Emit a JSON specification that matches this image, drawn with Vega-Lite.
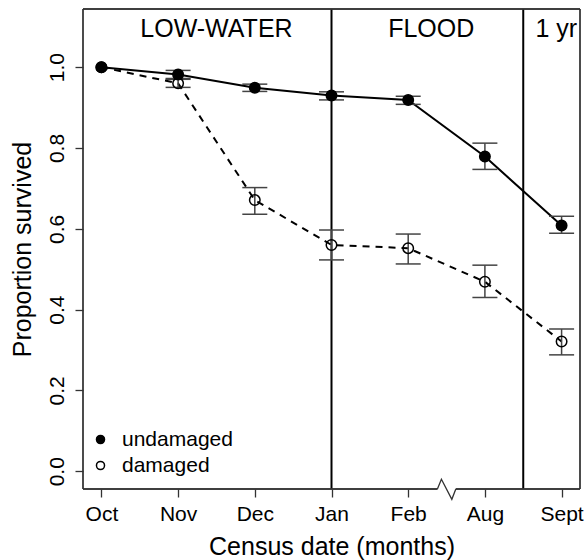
{
  "$schema": "https://vega.github.io/schema/vega-lite/v6.json",
  "width": 497,
  "height": 480,
  "autosize": "none",
  "padding": {"left": 83, "top": 9, "right": 5, "bottom": 71},
  "background": "white",
  "config": {
    "font": "Liberation Sans",
    "view": {"stroke": null},
    "axis": {
      "grid": false,
      "domain": false,
      "labelColor": "black",
      "labelFontSize": 21,
      "labelFont": "Liberation Sans",
      "tickColor": "#333333",
      "tickWidth": 1.3,
      "tickSize": 8,
      "titleColor": "black",
      "titleFont": "Liberation Sans",
      "titleFontSize": 25,
      "titleFontWeight": "normal",
      "labelFlush": false,
      "labelOverlap": false
    }
  },
  "datasets": {
    "survival": [
      {"month": "Oct", "idx": 1, "group": "undamaged", "p": 1.0, "lo": null, "hi": null},
      {"month": "Nov", "idx": 2, "group": "undamaged", "p": 0.982, "lo": 0.972, "hi": 0.992},
      {"month": "Dec", "idx": 3, "group": "undamaged", "p": 0.949, "lo": 0.94, "hi": 0.958},
      {"month": "Jan", "idx": 4, "group": "undamaged", "p": 0.93, "lo": 0.919, "hi": 0.939},
      {"month": "Feb", "idx": 5, "group": "undamaged", "p": 0.919, "lo": 0.908, "hi": 0.928},
      {"month": "Aug", "idx": 6, "group": "undamaged", "p": 0.779, "lo": 0.747, "hi": 0.812},
      {"month": "Sept", "idx": 7, "group": "undamaged", "p": 0.608, "lo": 0.589, "hi": 0.631},
      {"month": "Oct", "idx": 1, "group": "damaged", "p": 1.0, "lo": null, "hi": null},
      {"month": "Nov", "idx": 2, "group": "damaged", "p": 0.96, "lo": 0.95, "hi": 0.97},
      {"month": "Dec", "idx": 3, "group": "damaged", "p": 0.671, "lo": 0.636, "hi": 0.702},
      {"month": "Jan", "idx": 4, "group": "damaged", "p": 0.56, "lo": 0.523, "hi": 0.597},
      {"month": "Feb", "idx": 5, "group": "damaged", "p": 0.552, "lo": 0.513, "hi": 0.587},
      {"month": "Aug", "idx": 6, "group": "damaged", "p": 0.469, "lo": 0.43, "hi": 0.51},
      {"month": "Sept", "idx": 7, "group": "damaged", "p": 0.321, "lo": 0.288, "hi": 0.352}
    ],
    "periods": [
      {"period": "LOW-WATER", "mid": 2.5},
      {"period": "FLOOD", "mid": 5.3},
      {"period": "1 yr", "mid": 6.93}
    ],
    "boundaries": [{"at": 4}, {"at": 6.5}],
    "axisBreak": [
      {"order": 1, "x": 5.381, "y": -0.044},
      {"order": 2, "x": 5.433, "y": -0.02},
      {"order": 3, "x": 5.569, "y": -0.0695},
      {"order": 4, "x": 5.621, "y": -0.044}
    ]
  },
  "layer": [
    {
      "data": {"name": "boundaries"},
      "mark": {"type": "rule", "color": "black", "strokeWidth": 2},
      "encoding": {
        "x": {"field": "at", "type": "quantitative"}
      }
    },
    {
      "data": {"name": "boundaries"},
      "mark": {"type": "rule", "color": "#333333", "strokeWidth": 1.3},
      "encoding": {"x": {"datum": 0.76}}
    },
    {
      "data": {"name": "boundaries"},
      "mark": {"type": "rule", "color": "#333333", "strokeWidth": 1.3},
      "encoding": {"x": {"datum": 7.24}}
    },
    {
      "data": {"name": "boundaries"},
      "mark": {"type": "rule", "color": "#333333", "strokeWidth": 1.3},
      "encoding": {"y": {"datum": 1.144}}
    },
    {
      "data": {"name": "boundaries"},
      "mark": {"type": "rule", "color": "#333333", "strokeWidth": 1.3},
      "encoding": {"x": {"datum": 0.76}, "x2": {"datum": 5.381}, "y": {"datum": -0.044}}
    },
    {
      "data": {"name": "boundaries"},
      "mark": {"type": "rule", "color": "#333333", "strokeWidth": 1.3},
      "encoding": {"x": {"datum": 5.621}, "x2": {"datum": 7.24}, "y": {"datum": -0.044}}
    },
    {
      "data": {"name": "axisBreak"},
      "mark": {"type": "line", "color": "#333333", "strokeWidth": 1.3},
      "encoding": {
        "x": {"field": "x", "type": "quantitative"},
        "y": {"field": "y", "type": "quantitative"},
        "order": {"field": "order"}
      }
    },
    {
      "data": {"name": "survival"},
      "transform": [{"filter": "datum.group == 'undamaged'"}],
      "mark": {"type": "line", "color": "black", "strokeWidth": 2},
      "encoding": {
        "x": {"field": "idx", "type": "quantitative"},
        "y": {"field": "p", "type": "quantitative"}
      }
    },
    {
      "data": {"name": "survival"},
      "transform": [{"filter": "datum.group == 'damaged'"}],
      "mark": {"type": "line", "color": "black", "strokeWidth": 2, "strokeDash": [7, 6]},
      "encoding": {
        "x": {"field": "idx", "type": "quantitative"},
        "y": {"field": "p", "type": "quantitative"}
      }
    },
    {
      "data": {"name": "survival"},
      "transform": [{"filter": "datum.lo != null"}],
      "mark": {"type": "rule", "color": "#444444", "strokeWidth": 1.5},
      "encoding": {
        "x": {"field": "idx", "type": "quantitative"},
        "y": {"field": "lo", "type": "quantitative"},
        "y2": {"field": "hi"}
      }
    },
    {
      "data": {"name": "survival"},
      "transform": [{"filter": "datum.lo != null"}],
      "mark": {"type": "tick", "orient": "horizontal", "size": 25, "thickness": 1.5, "color": "#444444", "opacity": 1},
      "encoding": {
        "x": {"field": "idx", "type": "quantitative"},
        "y": {"field": "lo", "type": "quantitative"}
      }
    },
    {
      "data": {"name": "survival"},
      "transform": [{"filter": "datum.hi != null"}],
      "mark": {"type": "tick", "orient": "horizontal", "size": 25, "thickness": 1.5, "color": "#444444", "opacity": 1},
      "encoding": {
        "x": {"field": "idx", "type": "quantitative"},
        "y": {"field": "hi", "type": "quantitative"}
      }
    },
    {
      "data": {"name": "survival"},
      "mark": {"type": "point", "shape": "circle", "stroke": "black", "strokeWidth": 1.5, "opacity": 1, "size": 110},
      "encoding": {
        "x": {
          "field": "idx",
          "type": "quantitative",
          "scale": {"domain": [0.76, 7.24], "nice": false, "zero": false},
          "axis": {
            "values": [1, 2, 3, 4, 5, 6, 7],
            "labelExpr": "['', 'Oct', 'Nov', 'Dec', 'Jan', 'Feb', 'Aug', 'Sept'][datum.value]",
            "labelBaseline": "alphabetic",
            "labelPadding": 23.5,
            "title": "Census date (months)",
            "titleBaseline": "alphabetic",
            "titleY": 65,
            "titleX": 248.5
          }
        },
        "y": {
          "field": "p",
          "type": "quantitative",
          "scale": {"domain": [-0.044, 1.144], "nice": false, "zero": false},
          "axis": {
            "values": [0, 0.2, 0.4, 0.6, 0.8, 1.0],
            "format": ".1f",
            "labelAngle": 270,
            "labelAlign": "center",
            "labelBaseline": "alphabetic",
            "labelPadding": 11.7,
            "title": "Proportion survived",
            "titleAngle": 270,
            "titleAlign": "center",
            "titleBaseline": "alphabetic",
            "titleX": -52.5,
            "titleY": 240
          }
        },
        "fill": {
          "field": "group",
          "type": "nominal",
          "scale": {"domain": ["undamaged", "damaged"], "range": ["black", "transparent"]},
          "legend": {
            "orient": "none",
            "legendX": 7,
            "legendY": 420,
            "title": null,
            "padding": 0,
            "labelFontSize": 21,
            "labelColor": "black",
            "labelOffset": 11,
            "rowPadding": 4,
            "symbolType": "circle",
            "symbolSize": 65,
            "symbolStrokeColor": "black",
            "symbolStrokeWidth": 1.5
          }
        }
      }
    },
    {
      "data": {"name": "periods"},
      "mark": {"type": "text", "fontSize": 25, "align": "center", "baseline": "alphabetic", "color": "black"},
      "encoding": {
        "x": {"field": "mid", "type": "quantitative"},
        "y": {"datum": 1.0754},
        "text": {"field": "period"}
      }
    }
  ]
}
